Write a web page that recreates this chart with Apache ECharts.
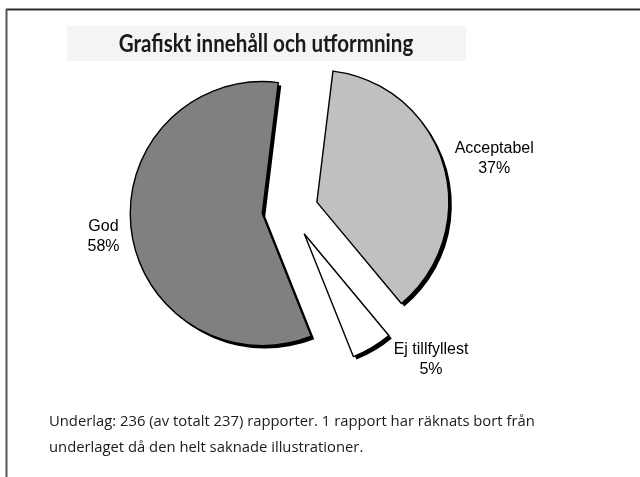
<!DOCTYPE html>
<html>
<head>
<meta charset="utf-8">
<script src="https://cdn.jsdelivr.net/npm/echarts@6/dist/echarts.min.js"></script>
<style>
html,body{margin:0;padding:0;background:#fff;}
#chart{width:640px;height:477px;}
</style>
</head>
<body>
<div id="chart"></div>
<script>
// Data
var categories = ['Acceptabel', 'Ej tillfyllest', 'God'];
var percentages = [37, 5, 58];
var sliceColors = ['#c0c0c0', '#ffffff', '#808080'];
var titleText = 'Grafiskt innehåll och utformning';
var footnoteLines = [
  'Underlag: 236 (av totalt 237) rapporter. 1 rapport har räknats bort från',
  'underlaget då den helt saknade illustrationer.'
];

var chart = echarts.init(document.getElementById('chart'), null, {renderer: 'canvas'});

function buildData(colorFn, extra) {
  return categories.map(function (name, i) {
    var c = colorFn(i);
    var st = Object.assign({color: c}, extra || {});
    return {
      name: name,
      value: percentages[i],
      selected: true,
      itemStyle: {color: c},
      select: {itemStyle: st}
    };
  });
}

var common = {
  type: 'pie',
  radius: 132,
  startAngle: 83,
  clockwise: true,
  selectedMode: 'multiple',
  selectedOffset: 28,
  avoidLabelOverlap: false,
  emphasis: {disabled: true, scale: false}
};

var option = {
  animation: false,
  backgroundColor: '#ffffff',
  graphic: [
    {type: 'line', shape: {x1: 6, y1: 9.5, x2: 640, y2: 9.5}, style: {stroke: '#2a2a2a', lineWidth: 2}, silent: true},
    {type: 'line', shape: {x1: 6.5, y1: 9, x2: 6.5, y2: 477}, style: {stroke: '#555', lineWidth: 2}, silent: true},
    {type: 'rect', shape: {x: 67, y: 26, width: 399, height: 35}, style: {fill: '#f4f4f4'}, silent: true},
    {type: 'text', x: 266, y: 44, scaleX: 0.84, style: {text: titleText, font: 'bold 24.5px Lato', fill: '#1a1a1a', textAlign: 'center', textVerticalAlign: 'middle'}, silent: true},
    {type: 'text', x: 49, y: 422, style: {text: footnoteLines[0], font: '14.8px "Open Sans"', fill: '#1a1a1a', textAlign: 'left', textVerticalAlign: 'middle'}, silent: true},
    {type: 'text', x: 49, y: 448, style: {text: footnoteLines[1], font: '14.8px "Open Sans"', fill: '#1a1a1a', textAlign: 'left', textVerticalAlign: 'middle'}, silent: true}
  ],
  series: [
    Object.assign({}, common, {
      name: 'shadow',
      center: [293, 213],
      silent: true,
      z: 1,
      itemStyle: {borderWidth: 0},
      label: {show: false},
      labelLine: {show: false},
      data: buildData(function () { return '#000'; }, {borderWidth: 0})
    }),
    Object.assign({}, common, {
      name: 'pie',
      center: [290, 210],
      z: 2,
      itemStyle: {borderColor: '#000', borderWidth: 1.4},
      label: {
        show: true,
        position: 'outside',
        formatter: '{c|{b}}\n{c|{d}%}',
        distanceToLabelLine: -9,
        rich: {
          c: {fontFamily: 'Liberation Sans', fontSize: 16, color: '#000', align: 'center', lineHeight: 20}
        }
      },
      labelLine: {show: false, length: 21, length2: 0},
      labelLayout: function (p) {
        if (p.dataIndex === 1) { return {dx: 20, dy: -6}; }
        if (p.dataIndex === 2) { return {dy: 3}; }
        return {};
      },
      data: buildData(function (i) { return sliceColors[i]; }, {borderColor: '#000', borderWidth: 1.4})
    })
  ]
};
chart.setOption(option);
</script>
</body>
</html>
